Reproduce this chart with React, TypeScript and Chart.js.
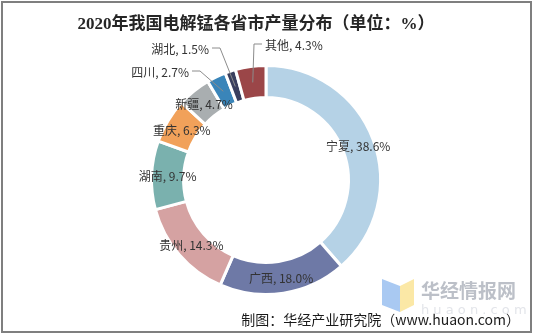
import React, { useEffect, useRef } from "react";
import { Chart, registerables } from "chart.js";

Chart.register(...registerables);

const provinces = ["宁夏", "广西", "贵州", "湖南", "重庆", "新疆", "四川", "湖北", "其他"];
const shares = [38.6, 18.0, 14.3, 9.7, 6.3, 4.7, 2.7, 1.5, 4.3];
const sliceColors = ["#b5d2e6", "#6e79a6", "#d5a2a2", "#7ab1ae", "#f1a15a", "#a9aeb0", "#3a85b9", "#3a3f5e", "#9b4648"];
const titleText = "2020年我国电解锰各省市产量分布（单位：%）";
const sourceText = "制图：华经产业研究院（www.huaon.com）";

const CJK = '"Noto Sans CJK SC", "Noto Sans", sans-serif';

const decorPlugin = {
  id: "decor",
  beforeDraw(chart: any) {
    const ctx = chart.ctx;
    ctx.save();
    ctx.fillStyle = "#ffffff";
    ctx.fillRect(0, 0, chart.width, chart.height);
    // watermark logo
    ctx.fillStyle = "#a9c9f2";
    ctx.beginPath();
    ctx.moveTo(382, 279);
    ctx.lineTo(400, 286);
    ctx.lineTo(400, 312);
    ctx.lineTo(382, 305);
    ctx.closePath();
    ctx.fill();
    ctx.fillStyle = "#fbe8a6";
    ctx.beginPath();
    ctx.moveTo(400, 286);
    ctx.lineTo(414, 279);
    ctx.lineTo(414, 305);
    ctx.lineTo(400, 312);
    ctx.closePath();
    ctx.fill();
    ctx.fillStyle = "#bcc0c8";
    ctx.font = `bold 19px ${CJK}`;
    ctx.textAlign = "left";
    ctx.textBaseline = "middle";
    ctx.fillText("华经情报网", 421, 291);
    ctx.fillStyle = "#e3e5ea";
    ctx.font = `13px "DejaVu Sans", sans-serif`;
    ctx.fillText("h u a o n . c o m", 421, 311);
    ctx.restore();
  },
  afterDatasetsDraw(chart: any) {
    const ctx = chart.ctx;
    const meta = chart.getDatasetMeta(0);
    ctx.save();
    // frame
    ctx.strokeStyle = "#7f7f7f";
    ctx.lineWidth = 2;
    ctx.strokeRect(2, 2, 529, 330);
    // title
    ctx.fillStyle = "#262626";
    ctx.font = `bold 17px "Liberation Serif", ${CJK}`;
    ctx.textAlign = "center";
    ctx.textBaseline = "middle";
    ctx.fillText(titleText, 256, 25);
    // labels
    ctx.font = `12px ${CJK}`;
    ctx.fillStyle = "#333333";
    const leaders: Record<number, { ex: number; ey: number; dir: number }> = {
      6: { ex: -66, ey: -109, dir: -1 },
      7: { ex: -46, ey: -132, dir: -1 },
      8: { ex: -12, ey: -136, dir: 1 },
    };
    meta.data.forEach((arc: any, i: number) => {
      const p = arc.tooltipPosition();
      const label = `${provinces[i]}, ${shares[i].toFixed(1)}%`;
      const ld = leaders[i];
      if (!ld) {
        ctx.textAlign = "center";
        ctx.fillText(label, p.x, p.y + 1);
      } else {
        const ex = arc.x + ld.ex;
        const ey = arc.y + ld.ey;
        const tx = ex + ld.dir * 8;
        ctx.strokeStyle = "#8c8c8c";
        ctx.lineWidth = 1;
        ctx.beginPath();
        ctx.moveTo(p.x, p.y);
        ctx.lineTo(ex, ey);
        ctx.lineTo(tx, ey);
        ctx.stroke();
        ctx.textAlign = ld.dir < 0 ? "right" : "left";
        ctx.fillText(label, tx + ld.dir * 3, ey + 1);
      }
    });
    // source
    ctx.font = `14px ${CJK}`;
    ctx.fillStyle = "#1a1a1a";
    ctx.textAlign = "right";
    ctx.fillText(sourceText, 520, 320);
    ctx.restore();
  },
};

export default function App() {
  const ref = useRef<HTMLCanvasElement | null>(null);
  useEffect(() => {
    if (!ref.current) return;
    const chart = new Chart(ref.current, {
      type: "doughnut",
      data: {
        labels: provinces,
        datasets: [
          {
            data: shares,
            backgroundColor: sliceColors,
            borderColor: "#ffffff",
            borderWidth: 3,
          },
        ],
      },
      options: {
        animation: false,
        responsive: false,
        cutout: "72%",
        layout: { padding: { top: 64, bottom: 40, left: 0, right: 4 } },
        plugins: {
          legend: { display: false },
          tooltip: { enabled: false },
          title: { display: false },
        },
      },
      plugins: [decorPlugin],
    });
    return () => chart.destroy();
  }, []);
  return (
    <div style={{ position: "absolute", left: 0, top: 0, width: 536, height: 336 }}>
      <canvas ref={ref} width={536} height={336} />
    </div>
  );
}
